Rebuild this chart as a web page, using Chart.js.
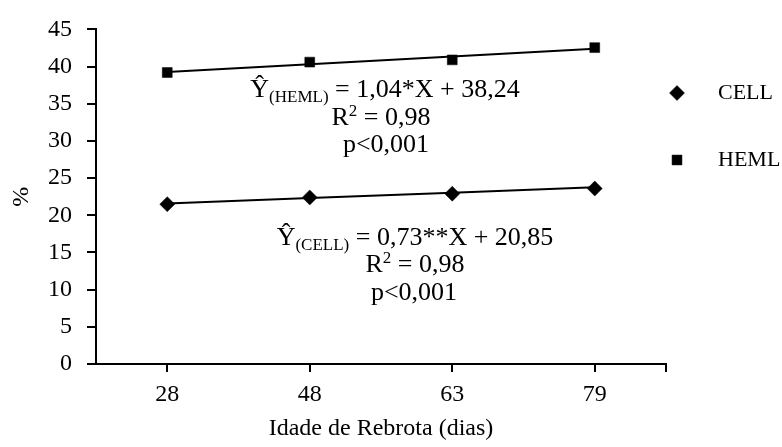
<!DOCTYPE html>
<html><head><meta charset="utf-8">
<script src="https://cdn.jsdelivr.net/npm/chart.js@4"></script>
<style>html,body{margin:0;padding:0;background:#fff}#wrap{width:782px;height:447px}</style>
</head><body><div id="wrap"><canvas id="c" width="782" height="447"></canvas></div>
<script>
const categories = ['28', '48', '63', '79'];
const cellValues = [21.5, 22.4, 22.9, 23.6];
const hemlValues = [39.2, 40.6, 40.9, 42.55];
const cellFit = [21.58, 22.31, 23.04, 23.77];
const hemlFit = [39.28, 40.32, 41.36, 42.40];
const seriesNames = ['CELL', 'HEML'];
const yMin = 0, yMax = 45, yStep = 5;
const xTitle = 'Idade de Rebrota (dias)';
const yTitle = '%';

const FONT = "'Liberation Serif', 'Times New Roman', serif";

function drawRich(ctx, cx, baseline, segs) {
  let total = 0;
  segs.forEach(s => { ctx.font = s.size + 'px ' + FONT; s.w = ctx.measureText(s.t).width; total += s.w; });
  let x = cx - total / 2;
  ctx.textAlign = 'left';
  ctx.textBaseline = 'alphabetic';
  ctx.fillStyle = '#000';
  segs.forEach(s => { ctx.font = s.size + 'px ' + FONT; ctx.fillText(s.t, x, baseline + (s.dy || 0)); x += s.w; });
}

const annotations = {
  id: 'annotations',
  afterDatasetsDraw(chart) {
    const ctx = chart.ctx;
    ctx.save();
    const M = 26, S = 17;
    drawRich(ctx, 385, 97, [{t: 'Ŷ', size: M}, {t: '(HEML)', size: S, dy: 5}, {t: ' = 1,04*X + 38,24', size: M}]);
    drawRich(ctx, 381, 125, [{t: 'R', size: M}, {t: '2', size: S, dy: -9}, {t: ' = 0,98', size: M}]);
    drawRich(ctx, 386, 152, [{t: 'p<0,001', size: M}]);
    drawRich(ctx, 415, 245, [{t: 'Ŷ', size: M}, {t: '(CELL)', size: S, dy: 5}, {t: ' = 0,73**X + 20,85', size: M}]);
    drawRich(ctx, 415, 272, [{t: 'R', size: M}, {t: '2', size: S, dy: -9}, {t: ' = 0,98', size: M}]);
    drawRich(ctx, 414, 300, [{t: 'p<0,001', size: M}]);
    // right end tick of x axis
    const a = chart.chartArea;
    ctx.strokeStyle = '#000'; ctx.lineWidth = 2;
    ctx.beginPath(); ctx.moveTo(a.right, a.bottom); ctx.lineTo(a.right, a.bottom + 8); ctx.stroke();
    // legend
    const items = [
      {name: seriesNames[0], style: 'rectRot', r: 7.5, y: 93},
      {name: seriesNames[1], style: 'rect', r: 7, y: 160}
    ];
    items.forEach(it => {
      ctx.fillStyle = '#000'; ctx.strokeStyle = '#000'; ctx.lineWidth = 0.5;
      Chart.helpers.drawPoint(ctx, {pointStyle: it.style, radius: it.r, borderWidth: 0.5}, 677, it.y);
      ctx.font = '22px ' + FONT;
      ctx.textAlign = 'left'; ctx.textBaseline = 'middle';
      ctx.fillText(it.name, 718, it.y);
    });
    ctx.restore();
  }
};

new Chart(document.getElementById('c'), {
  type: 'line',
  data: {
    labels: categories,
    datasets: [
      {label: 'CELL fit', data: cellFit, borderColor: '#000', borderWidth: 2, pointRadius: 0, fill: false, tension: 0},
      {label: 'HEML fit', data: hemlFit, borderColor: '#000', borderWidth: 2, pointRadius: 0, fill: false, tension: 0},
      {label: seriesNames[0], data: cellValues, showLine: false, pointStyle: 'rectRot', pointRadius: 7.5, backgroundColor: '#000', borderColor: '#000', borderWidth: 0.5},
      {label: seriesNames[1], data: hemlValues, showLine: false, pointStyle: 'rect', pointRadius: 7, backgroundColor: '#000', borderColor: '#000', borderWidth: 0.5}
    ]
  },
  options: {
    responsive: false,
    devicePixelRatio: 1,
    animation: false,
    layout: {padding: {top: 20, right: 116, bottom: 0, left: 0}},
    plugins: {legend: {display: false}, tooltip: {enabled: false}},
    scales: {
      x: {
        offset: true,
        grid: {drawOnChartArea: false, drawTicks: true, tickLength: 8, color: '#000', lineWidth: 2, offset: false},
        border: {color: '#000', width: 2},
        ticks: {color: '#000', font: {family: FONT, size: 24}, padding: 8, maxRotation: 0},
        title: {display: true, text: xTitle, color: '#000', font: {family: FONT, size: 24}, padding: {top: 0, bottom: 4}},
        afterFit(s) { s.height = 83; }
      },
      y: {
        min: yMin, max: yMax,
        grid: {drawOnChartArea: false, drawTicks: true, tickLength: 9, color: '#000', lineWidth: 2},
        border: {color: '#000', width: 2},
        ticks: {color: '#000', stepSize: yStep, font: {family: FONT, size: 24}, padding: 15},
        title: {display: true, text: yTitle, color: '#000', font: {family: FONT, size: 24}, padding: {top: 7, bottom: 0}},
        afterFit(s) { s.width = 96; }
      }
    }
  },
  plugins: [annotations]
});
</script></body></html>
